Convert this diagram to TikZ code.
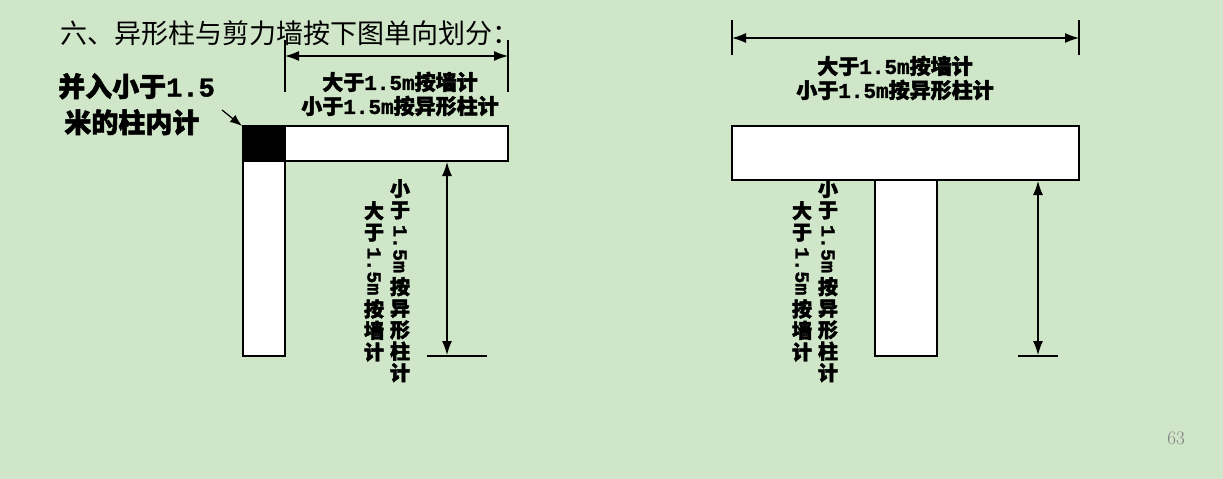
\documentclass[tikz,border=0pt]{standalone}
\usepackage{fontspec}
\usetikzlibrary{arrows.meta}
\newfontfamily\cjk{Noto Sans CJK SC}
\newfontfamily\cjkb{Noto Sans CJK SC}[FakeBold=2]
\newfontfamily\lat{Liberation Mono}[FakeBold=1.5]
\definecolor{bg}{HTML}{D0E6C9}
\newcommand{\vmeter}{\rotatebox{-90}{\lat\bfseries\hspace{-3pt}1.5m}}
\begin{document}
\begin{tikzpicture}[x=1pt,y=-1pt,
  bar/.style={draw=black,line width=1.5pt,fill=white},
  dim/.style={line width=1.2pt,{Latex[length=14pt,width=10pt]}-{Latex[length=14pt,width=10pt]}},
  tick/.style={line width=1.2pt},
  lbl/.style={font=\cjkb\bfseries\fontsize{21}{24}\selectfont,inner sep=0pt,align=center},
  vlbl/.style={font=\cjkb\bfseries\fontsize{20}{21.5}\selectfont,inner sep=0pt,align=center,anchor=north}]
\fill[bg] (0,0) rectangle (1223,479);
\useasboundingbox (0,0) rectangle (1223,479);
\node[anchor=west,font=\cjk\fontsize{27}{28}\selectfont,inner sep=0pt] (title) at (60,33) {六、异形柱与剪力墙按下图单向划分：};
% left figure
\coordinate (p1) at (285,40); \coordinate (p1b) at (285,92);
\coordinate (p2) at (508,40); \coordinate (p2b) at (508,92);
\draw[tick] (p1)--(p1b); \draw[tick] (p2)--(p2b);
\draw[dim] (285,56) coordinate (a1) -- (508,56) coordinate (a2);
\node[lbl] (t1) at (400,94) {大于\lat 1.5m\cjkb 按墙计\\小于\lat 1.5m\cjkb 按异形柱计};
\draw[bar] (243,161) rectangle (285,356);
\draw[bar] (285,126) rectangle (508,161);
\draw[fill=black,line width=1.5pt] (243,126) rectangle (285,161);
\node[lbl,font=\cjkb\bfseries\fontsize{27}{36}\selectfont,anchor=north west,align=left] (big) at (58,73) {并入小于\lat 1.5\\\ \cjkb 米的柱内计};
\coordinate (ar0) at (222,110); \coordinate (ar1) at (242,126);
\draw[line width=1.2pt,-{Latex[length=12pt,width=9pt]}] (ar0)--(ar1);
\draw[dim] (447,162) coordinate (v1) -- (447,355) coordinate (v2);
\draw[tick] (427,356) coordinate (b1) -- (487,356) coordinate (b2);
\node[vlbl] (vl1) at (400,179) {小\\于\\[-11pt]\vmeter\\[3pt]按\\异\\形\\柱\\计};
\node[vlbl] (vl2) at (374,201) {大\\于\\[-11pt]\vmeter\\[3pt]按\\墙\\计};
% right figure
\draw[tick] (732,20) coordinate (q1) -- (732,55);
\draw[tick] (1079,20) coordinate (q2) -- (1079,55);
\draw[dim] (732,38) coordinate (c1) -- (1079,38) coordinate (c2);
\node[lbl] (t2) at (895,78) {大于\lat 1.5m\cjkb 按墙计\\小于\lat 1.5m\cjkb 按异形柱计};
\draw[bar] (875,180) rectangle (937,356);
\draw[bar] (732,126) rectangle (1079,180);
\draw[dim] (1038,181) coordinate (w1) -- (1038,355) coordinate (w2);
\draw[tick] (1018,356) coordinate (d1) -- (1058,356) coordinate (d2);
\node[vlbl] (vr1) at (828,179) {小\\于\\[-11pt]\vmeter\\[3pt]按\\异\\形\\柱\\计};
\node[vlbl] (vr2) at (802,201) {大\\于\\[-11pt]\vmeter\\[3pt]按\\墙\\计};
\node[font=\fontsize{19}{20}\selectfont,text=gray] (pg) at (1176,438) {63};
\end{tikzpicture}
\end{document}
